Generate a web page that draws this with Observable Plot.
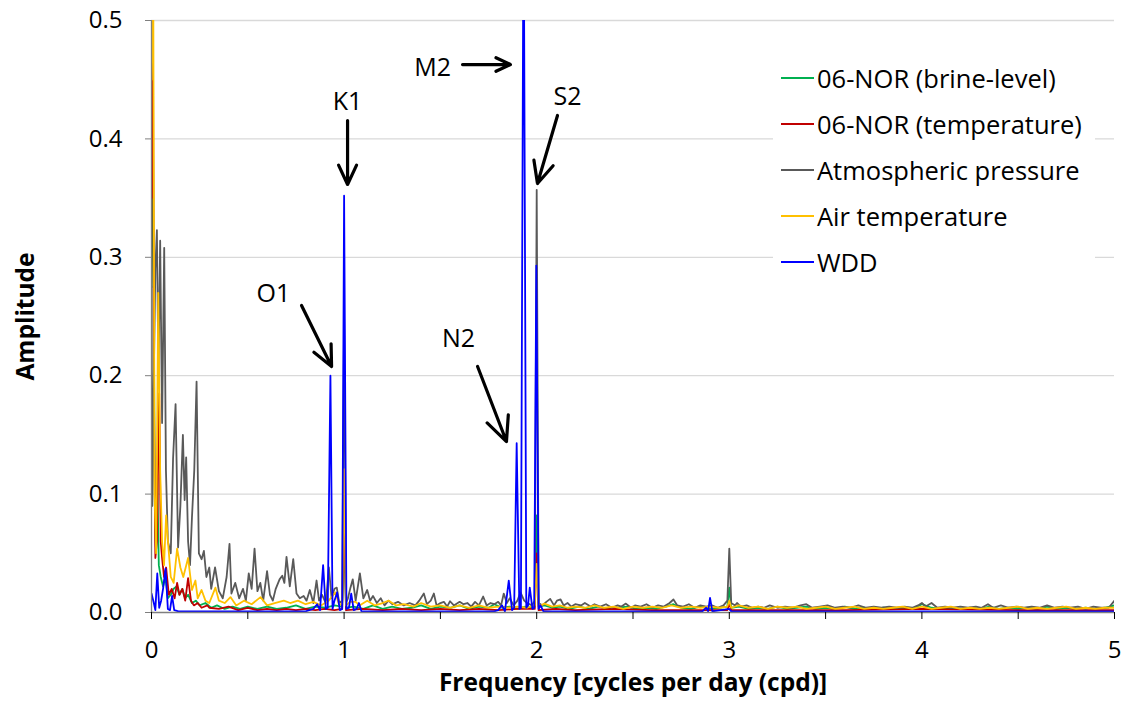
<!DOCTYPE html>
<html>
<head>
<meta charset="utf-8">
<script src="https://cdn.jsdelivr.net/npm/d3@7"></script>
<script src="https://cdn.jsdelivr.net/npm/@observablehq/plot@0.6"></script>
<style>
  body { margin: 0; background: white; }
  #wrap { position: relative; width: 1126px; height: 706px; }
  #legend { position: absolute; left: 773px; top: 55px; width: 322px; height: 230px; background: white; font-family: "Open Sans", sans-serif; font-size: 25.5px; color: black; }
  .item { position: absolute; left: 8px; height: 30px; display: flex; align-items: center; white-space: nowrap; }
  .swatch { width: 33px; height: 0; border-top: 2px solid; margin-right: 3px; }
</style>
</head>
<body>
<div id="wrap"></div>
<script>
// Series names and colours
const seriesNames = ["06-NOR (brine-level)", "06-NOR (temperature)", "Atmospheric pressure", "Air temperature", "WDD"];
const seriesColors = ["#00b050", "#c00000", "#595959", "#ffc000", "#0000ff"];

// Axis ticks
const xTicks = [0, 0.5, 1, 1.5, 2, 2.5, 3, 3.5, 4, 4.5, 5];
const yTicks = [0, 0.1, 0.2, 0.3, 0.4, 0.5];

// [frequency (cpd), amplitude]
const brineLevel = [[0,0.275],[0.006,0.475],[0.012,0.25],[0.018,0.07],[0.024,0.05],[0.03,0.114],[0.038,0.04],[0.048,0.03],[0.06,0.022],[0.072,0.03],[0.085,0.012],[0.1,0.015],[0.115,0.02],[0.13,0.022],[0.145,0.015],[0.16,0.02],[0.175,0.012],[0.19,0.015],[0.21,0.008],[0.23,0.01],[0.25,0.006],[0.28,0.008],[0.31,0.004],[0.34,0.006],[0.38,0.003],[0.42,0.005],[0.46,0.003],[0.5,0.005],[0.55,0.003],[0.6,0.005],[0.65,0.003],[0.7,0.004],[0.75,0.006],[0.8,0.003],[0.85,0.005],[0.9,0.004],[0.95,0.006],[0.99,0.005],[1.0,0.06],[1.01,0.004],[1.05,0.005],[1.1,0.003],[1.15,0.006],[1.2,0.003],[1.25,0.005],[1.3,0.003],[1.35,0.004],[1.4,0.006],[1.45,0.003],[1.5,0.005],[1.55,0.004],[1.6,0.006],[1.65,0.003],[1.7,0.005],[1.75,0.004],[1.78,0.007],[1.82,0.004],[1.86,0.005],[1.9,0.003],[1.94,0.005],[1.97,0.004],[1.99,0.006],[2.0,0.082],[2.01,0.005],[2.04,0.006],[2.08,0.004],[2.12,0.005],[2.17,0.003],[2.22,0.005],[2.27,0.003],[2.32,0.005],[2.37,0.003],[2.42,0.004],[2.47,0.005],[2.52,0.003],[2.57,0.004],[2.62,0.003],[2.67,0.005],[2.71,0.007],[2.75,0.004],[2.8,0.003],[2.85,0.005],[2.9,0.003],[2.95,0.004],[2.99,0.005],[3.0,0.021],[3.01,0.004],[3.05,0.005],[3.1,0.003],[3.15,0.004],[3.2,0.003],[3.25,0.005],[3.3,0.003],[3.35,0.004],[3.4,0.005],[3.45,0.003],[3.5,0.004],[3.55,0.003],[3.6,0.005],[3.65,0.003],[3.7,0.004],[3.75,0.003],[3.8,0.004],[3.85,0.003],[3.9,0.004],[3.95,0.003],[4.0,0.007],[4.05,0.004],[4.1,0.003],[4.15,0.004],[4.2,0.003],[4.25,0.004],[4.3,0.003],[4.35,0.005],[4.4,0.003],[4.45,0.004],[4.5,0.003],[4.55,0.004],[4.6,0.003],[4.65,0.005],[4.7,0.003],[4.75,0.004],[4.8,0.003],[4.85,0.004],[4.9,0.003],[4.95,0.004],[5.0,0.006]];

const norTemperature = [[0,0.35],[0.006,0.6],[0.012,0.2],[0.02,0.046],[0.028,0.06],[0.04,0.185],[0.048,0.06],[0.055,0.046],[0.065,0.03],[0.076,0.038],[0.09,0.015],[0.105,0.02],[0.12,0.012],[0.133,0.025],[0.145,0.015],[0.16,0.02],[0.175,0.01],[0.19,0.029],[0.205,0.01],[0.22,0.006],[0.24,0.008],[0.26,0.004],[0.29,0.006],[0.3,0.004],[0.35,0.003],[0.4,0.005],[0.45,0.002],[0.5,0.004],[0.55,0.002],[0.6,0.003],[0.65,0.002],[0.7,0.003],[0.75,0.002],[0.8,0.003],[0.85,0.002],[0.9,0.003],[0.95,0.002],[0.99,0.003],[1.0,0.09],[1.01,0.002],[1.1,0.003],[1.2,0.002],[1.3,0.003],[1.4,0.002],[1.5,0.003],[1.6,0.002],[1.7,0.003],[1.8,0.002],[1.9,0.003],[1.99,0.003],[2.0,0.05],[2.01,0.002],[2.1,0.003],[2.2,0.002],[2.4,0.003],[2.6,0.002],[2.8,0.002],[2.99,0.002],[3.0,0.008],[3.01,0.002],[3.3,0.002],[3.6,0.002],[4.0,0.003],[4.5,0.002],[5.0,0.002]];

const atmPressure = [[0,0.275],[0.004,0.09],[0.012,0.2],[0.02,0.29],[0.028,0.323],[0.036,0.2],[0.045,0.314],[0.055,0.16],[0.066,0.308],[0.075,0.12],[0.085,0.06],[0.1,0.05],[0.112,0.13],[0.125,0.176],[0.138,0.055],[0.15,0.09],[0.163,0.15],[0.172,0.095],[0.18,0.131],[0.19,0.06],[0.2,0.04],[0.21,0.08],[0.222,0.12],[0.234,0.195],[0.246,0.05],[0.26,0.045],[0.272,0.052],[0.285,0.03],[0.3,0.038],[0.31,0.02],[0.33,0.038],[0.35,0.018],[0.37,0.012],[0.39,0.03],[0.405,0.058],[0.415,0.016],[0.435,0.025],[0.455,0.012],[0.475,0.02],[0.49,0.01],[0.505,0.033],[0.52,0.02],[0.535,0.054],[0.55,0.018],[0.565,0.025],[0.58,0.01],[0.6,0.035],[0.615,0.015],[0.63,0.01],[0.645,0.02],[0.665,0.028],[0.679,0.031],[0.69,0.025],[0.701,0.047],[0.718,0.022],[0.736,0.045],[0.753,0.016],[0.77,0.012],[0.79,0.014],[0.805,0.01],[0.822,0.019],[0.84,0.008],[0.857,0.027],[0.87,0.01],[0.885,0.015],[0.905,0.008],[0.921,0.038],[0.935,0.012],[0.95,0.02],[0.962,0.021],[0.975,0.008],[0.99,0.01],[1.0,0.25],[1.01,0.008],[1.02,0.012],[1.033,0.021],[1.045,0.028],[1.06,0.01],[1.082,0.033],[1.1,0.012],[1.12,0.019],[1.135,0.01],[1.15,0.014],[1.17,0.008],[1.19,0.012],[1.21,0.006],[1.23,0.01],[1.25,0.007],[1.28,0.009],[1.31,0.006],[1.34,0.008],[1.37,0.006],[1.39,0.01],[1.414,0.016],[1.43,0.007],[1.45,0.01],[1.466,0.016],[1.48,0.006],[1.5,0.008],[1.518,0.009],[1.535,0.005],[1.55,0.0095],[1.57,0.006],[1.6,0.009],[1.62,0.007],[1.64,0.008],[1.66,0.005],[1.68,0.009],[1.7,0.006],[1.722,0.0135],[1.74,0.006],[1.76,0.008],[1.78,0.007],[1.8,0.009],[1.815,0.006],[1.829,0.016],[1.845,0.008],[1.86,0.012],[1.88,0.006],[1.9,0.01],[1.916,0.017],[1.935,0.01],[1.95,0.008],[1.975,0.006],[1.99,0.01],[2.0,0.357],[2.01,0.008],[2.03,0.006],[2.05,0.009],[2.07,0.0115],[2.09,0.006],[2.105,0.01],[2.124,0.011],[2.14,0.006],[2.16,0.008],[2.18,0.005],[2.2,0.007],[2.23,0.006],[2.25,0.008],[2.28,0.005],[2.3,0.007],[2.33,0.005],[2.36,0.007],[2.39,0.004],[2.42,0.006],[2.44,0.005],[2.463,0.0075],[2.49,0.004],[2.51,0.006],[2.54,0.005],[2.57,0.007],[2.6,0.004],[2.63,0.006],[2.66,0.005],[2.69,0.008],[2.71,0.011],[2.73,0.006],[2.76,0.005],[2.79,0.007],[2.82,0.004],[2.85,0.006],[2.88,0.005],[2.91,0.006],[2.94,0.004],[2.97,0.006],[2.99,0.01],[3.0,0.054],[3.01,0.008],[3.03,0.006],[3.04,0.008],[3.06,0.005],[3.09,0.006],[3.12,0.004],[3.15,0.005],[3.18,0.004],[3.21,0.006],[3.25,0.004],[3.29,0.005],[3.33,0.004],[3.37,0.006],[3.4,0.007],[3.43,0.004],[3.47,0.005],[3.51,0.006],[3.55,0.004],[3.59,0.005],[3.63,0.004],[3.67,0.006],[3.71,0.004],[3.75,0.005],[3.79,0.004],[3.83,0.005],[3.87,0.004],[3.91,0.005],[3.95,0.004],[3.98,0.006],[4.0,0.008],[4.02,0.005],[4.05,0.008],[4.08,0.004],[4.12,0.005],[4.16,0.004],[4.2,0.005],[4.24,0.004],[4.28,0.005],[4.31,0.004],[4.343,0.007],[4.37,0.004],[4.41,0.006],[4.45,0.004],[4.49,0.005],[4.53,0.004],[4.57,0.005],[4.61,0.004],[4.65,0.006],[4.69,0.004],[4.73,0.005],[4.77,0.004],[4.81,0.005],[4.85,0.003],[4.89,0.005],[4.93,0.004],[4.97,0.004],[5.0,0.01]];

const airTemperature = [[0,0.45],[0.008,0.6],[0.016,0.1],[0.024,0.05],[0.035,0.27],[0.045,0.12],[0.055,0.06],[0.065,0.04],[0.076,0.082],[0.085,0.061],[0.1,0.03],[0.115,0.025],[0.133,0.054],[0.15,0.038],[0.165,0.03],[0.19,0.046],[0.21,0.019],[0.228,0.027],[0.24,0.012],[0.26,0.019],[0.28,0.01],[0.3,0.008],[0.332,0.021],[0.35,0.01],[0.38,0.008],[0.41,0.013],[0.44,0.006],[0.48,0.01],[0.52,0.007],[0.566,0.013],[0.6,0.006],[0.64,0.008],[0.687,0.01],[0.72,0.008],[0.76,0.01],[0.8,0.007],[0.84,0.009],[0.88,0.006],[0.92,0.01],[0.955,0.017],[0.975,0.006],[0.99,0.008],[1.0,0.121],[1.01,0.006],[1.03,0.009],[1.06,0.009],[1.08,0.006],[1.12,0.01],[1.16,0.006],[1.2,0.008],[1.232,0.01],[1.27,0.006],[1.31,0.007],[1.36,0.005],[1.4,0.008],[1.45,0.005],[1.5,0.006],[1.55,0.004],[1.6,0.006],[1.65,0.004],[1.7,0.006],[1.75,0.004],[1.8,0.005],[1.85,0.004],[1.9,0.005],[1.95,0.004],[1.99,0.006],[2.0,0.041],[2.01,0.005],[2.04,0.0075],[2.08,0.005],[2.12,0.006],[2.16,0.004],[2.2,0.005],[2.25,0.004],[2.3,0.006],[2.35,0.004],[2.4,0.005],[2.45,0.003],[2.5,0.005],[2.55,0.004],[2.6,0.005],[2.65,0.004],[2.7,0.006],[2.75,0.004],[2.8,0.005],[2.85,0.004],[2.9,0.005],[2.95,0.004],[2.99,0.005],[3.0,0.01],[3.01,0.004],[3.05,0.006],[3.1,0.004],[3.15,0.005],[3.2,0.003],[3.25,0.005],[3.3,0.004],[3.35,0.005],[3.4,0.003],[3.45,0.004],[3.5,0.005],[3.55,0.003],[3.6,0.004],[3.65,0.005],[3.7,0.003],[3.75,0.004],[3.8,0.003],[3.85,0.004],[3.9,0.005],[3.95,0.003],[4.0,0.005],[4.05,0.003],[4.1,0.004],[4.15,0.005],[4.2,0.003],[4.25,0.004],[4.3,0.003],[4.35,0.004],[4.4,0.003],[4.45,0.004],[4.5,0.005],[4.55,0.003],[4.6,0.004],[4.65,0.003],[4.7,0.004],[4.75,0.005],[4.8,0.003],[4.85,0.004],[4.9,0.003],[4.95,0.004],[5.0,0.004]];

const wdd = [[0,0.016],[0.012,0.008],[0.02,0.002],[0.03,0.033],[0.04,0.004],[0.05,0.01],[0.06,0.02],[0.073,0.037],[0.085,0.003],[0.096,0.002],[0.107,0.014],[0.118,0.002],[0.14,0.001],[0.3,0.001],[0.6,0.001],[0.8,0.001],[0.84,0.003],[0.86,0.007],[0.875,0.002],[0.891,0.04],[0.905,0.003],[0.915,0.004],[0.929,0.2],[0.94,0.003],[0.95,0.01],[0.964,0.017],[0.978,0.002],[0.99,0.003],[1.0,0.352],[1.012,0.003],[1.025,0.004],[1.037,0.016],[1.05,0.002],[1.065,0.003],[1.077,0.008],[1.09,0.001],[1.5,0.001],[1.78,0.001],[1.8,0.002],[1.82,0.006],[1.835,0.001],[1.855,0.027],[1.872,0.002],[1.883,0.004],[1.896,0.143],[1.91,0.003],[1.918,0.004],[1.932,0.62],[1.946,0.004],[1.955,0.006],[1.964,0.021],[1.978,0.003],[1.987,0.004],[1.998,0.293],[2.01,0.003],[2.02,0.006],[2.035,0.001],[2.5,0.001],[2.86,0.001],[2.88,0.004],[2.89,0.001],[2.9,0.0123],[2.912,0.001],[3.0,0.003],[3.01,0.001],[5.0,0.001]];

const seriesData = [brineLevel, norTemperature, atmPressure, airTemperature, wdd];

// Tidal constituent annotations: label position and arrow (tail -> head), in data units
const annoLabels = ["K1", "O1", "N2", "M2", "S2"];
const annoTextF = [1.018, 0.633, 1.594, 1.46, 2.16];
const annoTextA = [0.431, 0.2686, 0.2314, 0.4603, 0.4358];
const arrowF1 = [1.018, 0.779, 1.693, 1.615, 2.108];
const arrowA1 = [0.4155, 0.2593, 0.2078, 0.4628, 0.4198];
const arrowF2 = [1.018, 0.935, 1.843, 1.864, 2.004];
const arrowA2 = [0.3615, 0.2078, 0.1444, 0.4628, 0.3623];

const annos = annoLabels.map((label, i) => ({label, tf: annoTextF[i], ta: annoTextA[i], x1: arrowF1[i], y1: arrowA1[i], x2: arrowF2[i], y2: arrowA2[i]}));

const lineMarks = seriesData.map((data, i) => Plot.line(data, {
  x: d => d[0], y: d => d[1], stroke: seriesColors[i], strokeWidth: 1.8, clip: true
}));

const chart = Plot.plot({
  width: 1126,
  height: 706,
  marginLeft: 151,
  marginRight: 12,
  marginTop: 20,
  marginBottom: 94,
  x: {domain: [0, 5]},
  y: {domain: [0, 0.5]},
  style: {fontFamily: "'Open Sans', sans-serif", fontSize: "24px", color: "black", background: "white"},
  marks: [
    Plot.gridY(yTicks.slice(1), {stroke: "#d9d9d9", strokeOpacity: 1, strokeWidth: 1.3}),
    ...lineMarks,
    Plot.ruleX([0], {stroke: "#7f7f7f", strokeWidth: 1.3}),
    Plot.ruleY([0], {stroke: "#7f7f7f", strokeWidth: 1.3}),
    Plot.axisY({ticks: yTicks, tickFormat: d3.format(".1f"), tickSize: 6, tickPadding: 23, label: null, stroke: "#7f7f7f", fill: "black", fontSize: 24}),
    Plot.axisX({ticks: xTicks, tickFormat: d => Number.isInteger(d) ? String(d) : "", tickSize: 7, tickPadding: 21, label: null, stroke: "black", fill: "black", fontSize: 24}),
    Plot.arrow(annos, {x1: "x1", y1: "y1", x2: "x2", y2: "y2", stroke: "black", strokeWidth: 3.2, headLength: 14, headAngle: 50}),
    Plot.text(annos, {x: "tf", y: "ta", text: "label", fontSize: 25, fill: "black"}),
    Plot.text(["Amplitude"], {frameAnchor: "left", textAnchor: "middle", dx: -125, rotate: -90, fontWeight: "bold", fontSize: 24.5, fill: "black"}),
    Plot.text(["Frequency [cycles per day (cpd)]"], {frameAnchor: "bottom", dy: 78, fontWeight: "bold", fontSize: 24.5, fill: "black"})
  ]
});

const wrap = document.getElementById("wrap");
wrap.appendChild(chart);

// Legend inside the plot area
const legend = document.createElement("div");
legend.id = "legend";
seriesNames.forEach((name, i) => {
  const item = document.createElement("div");
  item.className = "item";
  item.style.top = (8 + i * 46) + "px";
  const sw = document.createElement("span");
  sw.className = "swatch";
  sw.style.borderTopColor = seriesColors[i];
  const tx = document.createElement("span");
  tx.textContent = name;
  item.appendChild(sw);
  item.appendChild(tx);
  legend.appendChild(item);
});
wrap.appendChild(legend);
</script>
</body>
</html>
